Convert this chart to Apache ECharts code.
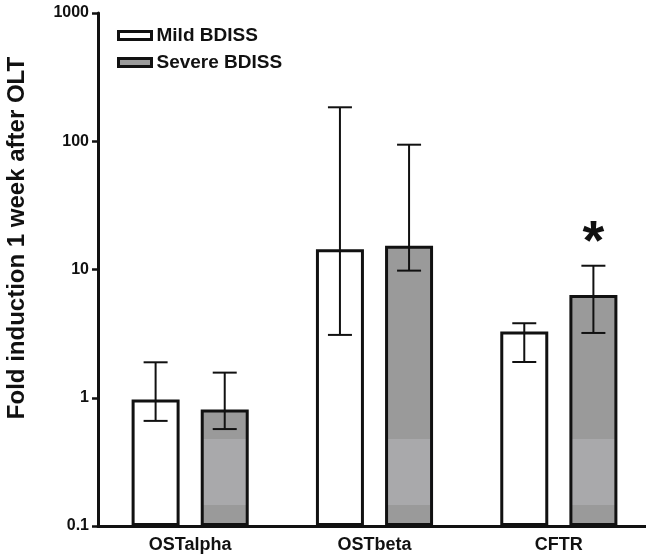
<!DOCTYPE html>
<html>
<head>
<meta charset="utf-8">
<script src="https://cdn.jsdelivr.net/npm/echarts@6/dist/echarts.min.js"></script>
<style>
html,body{margin:0;padding:0;background:#fff;}
#chart{width:646px;height:557px;}
</style>
</head>
<body>
<div id="chart"></div>
<script>
// ---- data ----
var categories = ['OSTalpha', 'OSTbeta', 'CFTR'];
var seriesNames = ['Mild BDISS', 'Severe BDISS'];
var mildValues = [0.97, 14.4, 3.28];
var mildLow = [0.66, 3.09, 1.90];
var mildHigh = [1.89, 184, 3.81];
var severeValues = [0.81, 15.3, 6.34];
var severeLow = [0.57, 9.8, 3.2];
var severeHigh = [1.57, 94, 10.7];
var sigMarks = ['', '', '*'];
var yTickLabels = ['0.1', '1', '10', '100', '1000'];
var yAxisTitle = 'Fold induction 1 week after OLT';

// ---- styles ----
var FONT = '"Liberation Sans", Arial, sans-serif';
var INK = '#111111';
var BAR_W = 48, BAR_GAP = 0.44;
var OFFSET = BAR_W * (1 + BAR_GAP) / 2;

function errData(low, high) {
  return categories.map(function (c, i) { return [i, low[i], high[i], sigMarks[i]]; });
}

function errRender(offset, withSig) {
  return function (params, api) {
    var i = api.value(0);
    var hi = api.coord([i, api.value(2)]);
    var lo = api.coord([i, api.value(1)]);
    var cx = hi[0] + offset;
    var half = 12;
    var st = { stroke: INK, lineWidth: 2 };
    var children = [
      { type: 'line', shape: { x1: cx, y1: hi[1], x2: cx, y2: lo[1] }, style: st },
      { type: 'line', shape: { x1: cx - half, y1: hi[1], x2: cx + half, y2: hi[1] }, style: st },
      { type: 'line', shape: { x1: cx - half, y1: lo[1], x2: cx + half, y2: lo[1] }, style: st }
    ];
    var mark = sigMarks[i];
    if (withSig && mark) {
      children.push({
        type: 'text',
        style: { text: mark, x: cx, y: hi[1] - 22, textAlign: 'center', textVerticalAlign: 'middle',
                 font: 'bold 56px ' + FONT, fill: INK }
      });
    }
    return { type: 'group', children: children };
  };
}

var chart = echarts.init(document.getElementById('chart'), null, { renderer: 'canvas' });
var option = {
  backgroundColor: '#ffffff',
  animation: false,
  textStyle: { fontFamily: FONT },
  grid: { left: 98, top: 13, width: 553, bottom: 31, containLabel: false, outerBoundsMode: 'none' },
  legend: {
    orient: 'vertical',
    left: 112,
    top: 21,
    itemWidth: 33,
    itemHeight: 8,
    itemGap: 8,
    icon: 'rect',
    data: seriesNames,
    itemStyle: { borderColor: INK, borderWidth: 3 },
    textStyle: { fontSize: 19, fontWeight: 'bold', color: INK, fontFamily: FONT }
  },
  xAxis: {
    type: 'category',
    data: categories,
    axisLine: { lineStyle: { color: INK, width: 3 } },
    axisTick: { alignWithLabel: true, length: 6, lineStyle: { color: INK, width: 3 } },
    axisLabel: { fontSize: 18, fontWeight: 'bold', color: INK, margin: 10, fontFamily: FONT },
    splitLine: { show: false }
  },
  yAxis: {
    type: 'log',
    logBase: 10,
    min: 0.1,
    max: 1000,
    startValue: 0.1,
    axisLine: { show: true, lineStyle: { color: INK, width: 3 } },
    axisTick: { show: true, length: 6, lineStyle: { color: INK, width: 2.5 } },
    axisLabel: {
      fontSize: 16, fontWeight: 'bold', color: INK, margin: 9, fontFamily: FONT,
      formatter: function (v) {
        var idx = Math.round(Math.log10(v)) + 1;
        return yTickLabels[idx] !== undefined ? yTickLabels[idx] : String(v);
      }
    },
    splitLine: { show: false }
  },
  graphic: [{
    type: 'text',
    x: 17, y: 238,
    rotation: Math.PI / 2,
    style: { text: yAxisTitle, textAlign: 'center', textVerticalAlign: 'middle',
             font: 'bold 24px ' + FONT, fill: INK }
  }],
  series: [
    {
      name: seriesNames[0], type: 'bar', data: mildValues,
      barWidth: BAR_W, barGap: (BAR_GAP * 100) + '%',
      itemStyle: { color: '#ffffff', borderColor: INK, borderWidth: 3 },
      z: 2
    },
    {
      name: seriesNames[1], type: 'bar', data: severeValues,
      barWidth: BAR_W, barGap: (BAR_GAP * 100) + '%',
      itemStyle: {
        color: {
          type: 'linear', x: 0, y: 0, x2: 0, y2: 557, global: true,
          colorStops: [
            { offset: 0, color: '#9a9a9a' }, { offset: 0.788, color: '#9a9a9a' },
            { offset: 0.7881, color: '#a9a9ab' }, { offset: 0.906, color: '#a9a9ab' },
            { offset: 0.9061, color: '#9a9a9a' }, { offset: 1, color: '#9a9a9a' }
          ]
        },
        borderColor: INK, borderWidth: 3
      },
      z: 2
    },
    {
      name: 'mildErr', type: 'custom', data: errData(mildLow, mildHigh),
      encode: { x: 0, y: [1, 2] }, renderItem: errRender(-OFFSET, false), z: 5, silent: true
    },
    {
      name: 'severeErr', type: 'custom', data: errData(severeLow, severeHigh),
      encode: { x: 0, y: [1, 2] }, renderItem: errRender(OFFSET, true), z: 5, silent: true
    }
  ]
};
chart.setOption(option);
</script>
</body>
</html>
